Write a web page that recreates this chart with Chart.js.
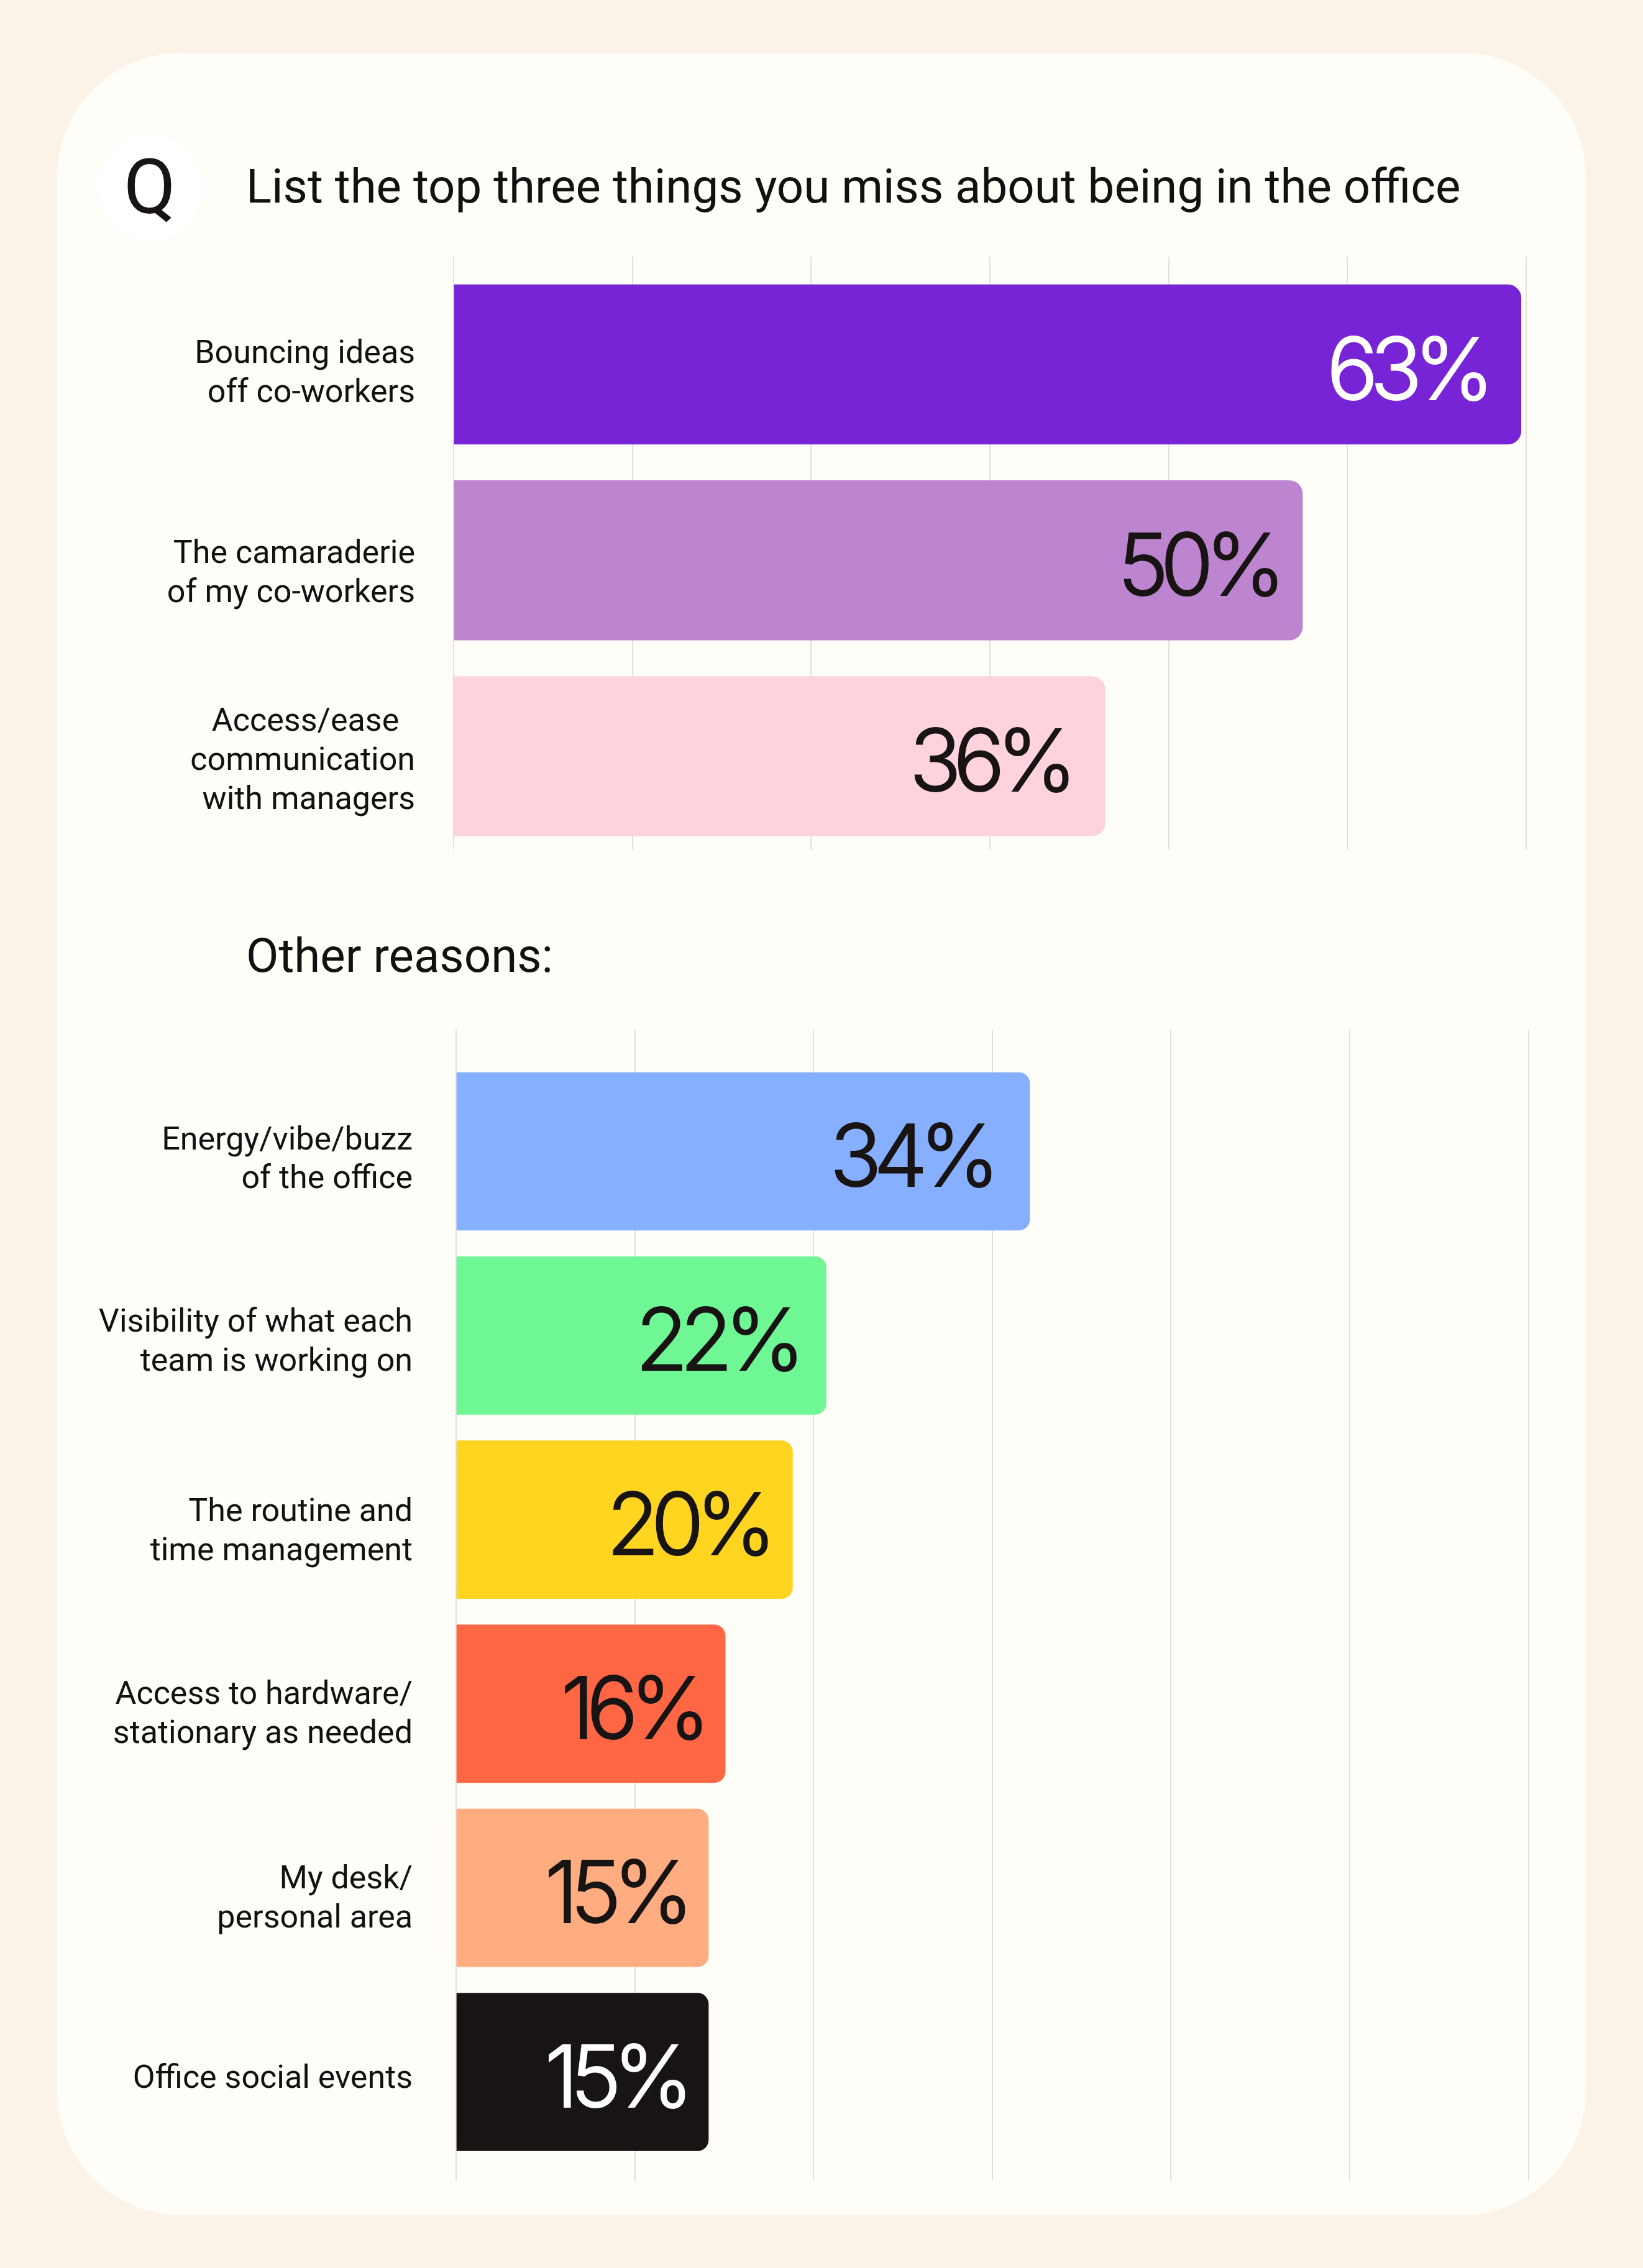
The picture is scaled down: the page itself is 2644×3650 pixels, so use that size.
<!DOCTYPE html>
<html>
<head>
<meta charset="utf-8">
<title>List the top three things you miss about being in the office</title>
<script src="https://cdn.jsdelivr.net/npm/chart.js@4.4.2/dist/chart.umd.min.js"></script>
<style>
  html, body { margin: 0; padding: 0; background: #fbf3e8; }
  body { position: relative; width: 2644px; height: 3650px; overflow: hidden; font-family: Roboto, sans-serif; color: #181414; }
  .card { position: absolute; left: 92px; top: 85px; width: 2460px; height: 3480px; border-radius: 200px; background: #fffdf8; }
  .badge { position: absolute; left: 156px; top: 216px; width: 170px; height: 172px; border-radius: 50%; background: #fff; text-align: center; font-size: 122px; line-height: 172px; }
  .heading { position: absolute; left: 396px; white-space: nowrap; font-size: 76.2px; line-height: 90px; color: #111; }
  canvas { position: absolute; left: 0; }
</style>
</head>
<body>
<div class="card"></div>
<div class="badge">Q</div>
<div class="heading" id="question" style="top:255px">List the top three things you miss about being in the office</div>
<div class="heading" id="other" style="top:1493px">Other reasons:</div>
<canvas id="top-chart" width="2644" height="954" style="top:413px"></canvas>
<canvas id="other-chart" width="2644" height="1853" style="top:1657px"></canvas>

<script>
const topCategories = [
  ['Bouncing ideas', 'off co-workers'],
  ['The camaraderie', 'of my co-workers'],
  ['Access/ease\u00a0\u00a0', 'communication', 'with managers'],
];
const topLabels = ['63%', '50%', '36%'];
// the third bar runs longer than its printed 36%
const topLengths = [63, 50.1, 38.45];
const topTicks = [0, 10.55, 21.1, 31.65, 42.2, 52.75, 63.3];

const otherCategories = [
  ['Energy/vibe/buzz', 'of the office'],
  ['Visibility of what each', 'team is working on'],
  ['The routine and', 'time management'],
  ['Access to hardware/', 'stationary as needed'],
  ['My desk/', 'personal area'],
  'Office social events',
];
const otherLabels = ['34%', '22%', '20%', '16%', '15%', '15%'];
const otherLengths = [34.1, 22, 20, 16, 15, 15];
const otherTicks = [0, 10.63, 21.25, 31.88, 42.5, 53.13, 63.76];

const topColors = ['#7723d6', '#bd84cf', '#ffd3de'];
const topTextColors = ['#ffffff', '#181414', '#181414'];
const topInsets = [58, 42, 60];
// px the row labels sit below the bar centre
const topLabelDrop = [16, 23, 9];
const otherColors = ['#87afff', '#6ff796', '#ffd520', '#ff6644', '#ffad80', '#181414'];
const otherTextColors = ['#181414', '#181414', '#181414', '#181414', '#181414', '#ffffff'];
const otherInsets = [63, 49, 41, 39, 39, 39];
const otherLabelDrop = [15, 12, 21, 19, 19, 12];

const FONT = 'Roboto';

function drawChart(id, cfg) {
  const valueLabels = {
    id: 'valueLabels',
    afterDatasetsDraw(chart) {
      const ctx = chart.ctx;
      ctx.save();
      ctx.font = '300 138px Inter';
      ctx.letterSpacing = '-13px';
      ctx.strokeStyle = 'transparent';
      ctx.textAlign = 'right';
      ctx.textBaseline = 'alphabetic';
      chart.getDatasetMeta(0).data.forEach((bar, i) => {
        ctx.fillStyle = cfg.textColors[i];
        // a hairline stroke brings the light weight up to the reference's
        ctx.strokeStyle = cfg.textColors[i];
        ctx.lineWidth = 2;
        const x = bar.x - cfg.insets[i] + 2;
        ctx.fillText(cfg.labels[i], x, bar.y + 56);
        ctx.strokeText(cfg.labels[i], x, bar.y + 56);
      });
      ctx.restore();
    },
  };

  return new Chart(document.getElementById(id), {
    type: 'bar',
    data: {
      datasets: [{
        data: cfg.lengths.map((v, i) => ({ x: v, y: i })),
        backgroundColor: cfg.colors,
        barThickness: cfg.thickness,
        borderRadius: { topRight: cfg.radius, bottomRight: cfg.radius },
        borderSkipped: 'start',
      }],
    },
    options: {
      indexAxis: 'y',
      responsive: false,
      animation: false,
      devicePixelRatio: 1,
      layout: { padding: { top: 0, bottom: 0, left: 0, right: cfg.rightPad } },
      plugins: { legend: { display: false }, tooltip: { enabled: false } },
      scales: {
        x: {
          type: 'linear',
          min: 0,
          max: cfg.ticks[cfg.ticks.length - 1],
          border: { display: false },
          grid: { color: '#e2e0dc', lineWidth: 2, drawTicks: false },
          ticks: { display: false },
          afterBuildTicks: scale => { scale.ticks = cfg.ticks.map(value => ({ value })); },
          afterFit: scale => { scale.height = 0; },
        },
        y: {
          type: 'linear',
          reverse: true,
          offset: false,
          min: cfg.yMin,
          max: cfg.yMax,
          border: { display: false },
          grid: { display: false, offset: false },
          afterBuildTicks: scale => {
            scale.ticks = cfg.categories.map((_, i) => ({ value: i + cfg.labelDrop[i] / cfg.pitch }));
          },
          afterFit: scale => {
            scale.width = cfg.axisX;
            scale.paddingTop = 0;
            scale.paddingBottom = 0;
          },
          ticks: {
            autoSkip: false,
            padding: cfg.labelGap,
            color: '#111111',
            font: { family: FONT, size: 52, lineHeight: 1.21 },
            callback: (value, index) => cfg.categories[index],
          },
        },
      },
    },
    plugins: [valueLabels],
  });
}

drawChart('top-chart', {
  categories: topCategories, labels: topLabels, lengths: topLengths, ticks: topTicks,
  colors: topColors, textColors: topTextColors, insets: topInsets, labelDrop: topLabelDrop,
  thickness: 257, radius: 22, axisX: 730, rightPad: 188, labelGap: 54, pitch: 315.25,
  yMin: -0.5504, yMax: 2.4758,
});

drawChart('other-chart', {
  categories: otherCategories, labels: otherLabels, lengths: otherLengths, ticks: otherTicks,
  colors: otherColors, textColors: otherTextColors, insets: otherInsets, labelDrop: otherLabelDrop,
  thickness: 254, radius: 18, axisX: 734, rightPad: 184, labelGap: 62, pitch: 296.3,
  yMin: -0.6615, yMax: 5.5923,
});
</script>
</body>
</html>
